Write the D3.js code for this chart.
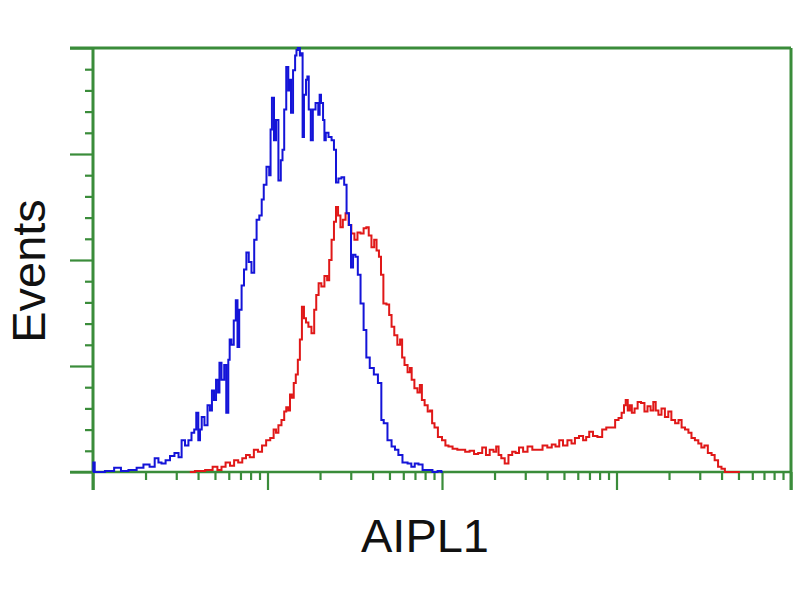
<!DOCTYPE html>
<html>
<head>
<meta charset="utf-8">
<script src="https://cdn.jsdelivr.net/npm/d3@7"></script>
<style>
  html, body { margin: 0; padding: 0; background: #ffffff; }
  svg { display: block; }
</style>
</head>
<body>
<script>
// ---- Data (channels on a 1024-channel, 4-decade log scale; counts = events) ----
const blueChannel = [0,1,4,10,25,37,45,59,69,79,87,94,98,103,110,116,123,128,132,138,142,147,150,153,156,158,161,166,170,173,176,179,182,185,186,191,194,197,200,201,205,208,211,213,216,220,223,227,230,235,238,242,246,249,252,257,260,261,264,267,270,274,277,279,282,285,288,289,292,295,298,299,302,305,307,308,311,314,315,318,321,324,329,332,333,336,339,340,343,348,352,355,358,362,367,370,374,377,380,383,387,390,395,399,403,409,415,421,425,428,436,440,446,450,458,465,469,475,480,487,494,502,509,513];
const blueCount   = [0,9,0,0,1,4,1,2,4,7,5,13,9,8,11,15,18,14,30,25,30,37,40,56,30,40,52,44,63,58,77,68,87,75,103,87,101,56,106,125,120,143,162,118,153,176,191,207,198,188,219,238,242,257,271,288,280,323,353,313,332,275,294,304,342,382,360,370,339,379,393,398,400,393,395,316,356,370,373,342,313,342,348,337,356,348,332,313,320,316,313,304,273,277,278,271,244,233,193,205,203,186,159,134,108,98,92,84,49,46,30,24,21,16,9,8,5,8,7,2,2,0,1,0];

const redChannel = [142,157,172,179,186,191,198,204,210,216,222,227,233,239,245,251,257,263,267,270,274,279,282,285,288,290,293,296,299,302,305,308,311,314,318,323,326,329,333,337,342,345,348,352,355,358,361,365,368,373,377,381,386,390,395,399,403,406,411,414,418,421,424,428,433,436,440,444,449,452,455,459,464,466,469,474,478,481,484,489,493,496,499,503,509,515,519,524,531,538,543,549,556,562,568,574,579,585,590,593,597,601,607,612,618,622,628,634,641,648,656,663,670,676,681,687,692,700,704,710,716,722,725,731,736,744,750,756,763,769,773,778,780,783,786,789,792,797,801,807,811,816,820,824,827,832,836,842,846,851,857,861,866,871,876,880,886,890,895,899,905,910,914,920,924,930,949];
const redCount   = [0,1,2,5,2,5,9,6,11,9,13,16,14,21,19,25,30,32,40,37,44,49,57,61,58,73,70,84,92,106,125,156,145,141,137,131,153,167,178,175,185,181,200,219,236,250,242,231,238,244,233,225,219,226,225,230,231,223,212,219,209,203,186,159,158,148,137,129,120,125,108,101,94,98,87,79,75,82,68,63,57,58,46,42,33,30,25,24,22,21,21,19,20,17,18,23,16,21,19,24,16,13,8,16,19,18,23,19,24,21,21,25,23,26,24,30,25,30,27,32,34,30,33,38,34,33,40,42,42,49,51,56,63,68,58,63,56,60,66,65,57,62,58,66,58,54,60,52,57,49,46,49,42,40,37,32,30,27,23,25,18,16,11,5,3,0,0];

const yMajorTicks = [0, 100, 200, 300, 400];
const yMinorTicks = d3.range(0, 401, 20).filter(v => v % 100 !== 0);
const xMajorTicks = [1, 10, 100, 1000, 10000];
const xMinorTicks = [1, 10, 100, 1000].flatMap(d => [2,3,4,5,6,7,8,9].map(m => m * d));

const xLabel = "AIPL1";
const yLabel = "Events";

// ---- Layout ----
const W = 800, H = 600;
const mLeft = 93, mRight = 791, mTop = 48, mBottom = 472;
const green = "#3a8c3a";

const svg = d3.select("body").append("svg").attr("width", W).attr("height", H);

const x = d3.scaleLog().domain([1, 10000]).range([mLeft, mRight]);
const y = d3.scaleLinear().domain([0, 400]).range([mBottom, mTop]);
const chToVal = ch => Math.pow(10, ch / 256);

// axes
function styleAxis(g) {
  g.select(".domain").remove();
  g.selectAll(".tick line").attr("stroke", green).attr("stroke-width", 2.2);
  g.selectAll(".tick text").remove();
}
svg.append("g").attr("transform", `translate(${mLeft},0)`)
  .call(d3.axisLeft(y).tickValues(yMinorTicks).tickSize(8).tickFormat("")).call(styleAxis);
svg.append("g").attr("transform", `translate(${mLeft},0)`)
  .call(d3.axisLeft(y).tickValues(yMajorTicks).tickSize(23).tickFormat("")).call(styleAxis);
svg.append("g").attr("transform", `translate(0,${mBottom})`)
  .call(d3.axisBottom(x).tickValues(xMinorTicks).tickSize(8).tickFormat("")).call(styleAxis);
svg.append("g").attr("transform", `translate(0,${mBottom})`)
  .call(d3.axisBottom(x).tickValues(xMajorTicks).tickSize(18).tickFormat("")).call(styleAxis);

// frame
const frame = svg.append("g").attr("stroke", green).attr("fill", "none");
frame.append("line").attr("x1", x(1)).attr("x2", x(1)).attr("y1", y(400)).attr("y2", mBottom + 18).attr("stroke-width", 3);
frame.append("line").attr("x1", x(10000)).attr("x2", x(10000)).attr("y1", y(400)).attr("y2", mBottom + 18).attr("stroke-width", 3);
frame.append("line").attr("x1", x(1) - 23).attr("x2", x(10000)).attr("y1", y(400)).attr("y2", y(400)).attr("stroke-width", 3);
frame.append("line").attr("x1", x(1) - 23).attr("x2", x(10000)).attr("y1", y(0)).attr("y2", y(0)).attr("stroke-width", 2.5);

// histograms
const line = d3.line().x(d => x(chToVal(d[0]))).y(d => y(d[1])).curve(d3.curveStep);
const redData = redChannel.map((c, i) => [c, redCount[i]]);
const blueData = blueChannel.map((c, i) => [c, blueCount[i]]);

svg.append("path").datum(redData).attr("d", line)
  .attr("fill", "none").attr("stroke", "#e01818").attr("stroke-width", 2);
svg.append("path").datum(blueData).attr("d", line)
  .attr("fill", "none").attr("stroke", "#1414d8").attr("stroke-width", 2);

// labels
svg.append("text").attr("x", 425).attr("y", 552)
  .attr("text-anchor", "middle")
  .attr("font-family", "'Liberation Sans', Arial, sans-serif")
  .attr("font-size", 47).attr("fill", "#111").text(xLabel);
svg.append("text").attr("transform", "translate(45,271) rotate(-90)")
  .attr("text-anchor", "middle")
  .attr("font-family", "'Liberation Sans', Arial, sans-serif")
  .attr("font-size", 47).attr("fill", "#111").text(yLabel);
</script>
</body>
</html>
